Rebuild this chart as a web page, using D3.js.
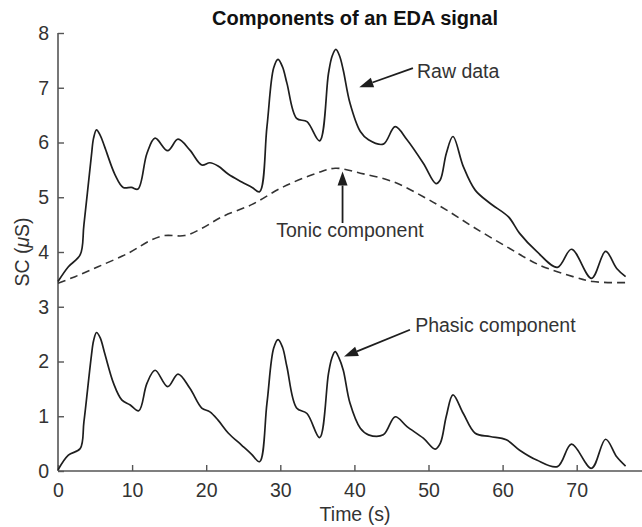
<!DOCTYPE html>
<html>
<head>
<meta charset="utf-8">
<script src="https://cdn.jsdelivr.net/npm/d3@7"></script>
<style>
  html, body { margin: 0; padding: 0; background: #fff; }
  svg { display: block; }
  text { font-family: "Liberation Sans", Arial, Helvetica, sans-serif; fill: #333; }
</style>
</head>
<body>
<svg id="chart" width="642" height="527"></svg>
<script>
// Skin conductance decomposition: [time (s), SC (µS)]
const rawSignal = [
  [0, 3.46], [1.4, 3.73], [3.0, 3.95], [3.5, 4.5], [4.5, 5.75], [4.8, 6.08], [5.2, 6.23],
  [5.7, 6.13], [6.3, 5.92],
  [7.7, 5.41], [8.8, 5.18], [9.9, 5.18], [10.8, 5.15], [12.0, 5.80], [13.1, 6.08],
  [14.8, 5.85], [16.2, 6.06], [17.8, 5.86], [19.4, 5.59], [20.5, 5.63], [21.6, 5.57],
  [23.0, 5.42], [24.8, 5.28], [26.2, 5.18], [27.2, 5.10], [28.2, 6.29], [29.1, 7.36],
  [29.7, 7.52], [30.3, 7.38],
  [30.9, 7.08], [32.2, 6.44], [33.6, 6.38], [35.3, 6.03], [36.5, 7.26], [37.0, 7.58],
  [37.5, 7.70], [38.0, 7.58],
  [38.5, 7.32], [39.4, 6.72], [40.8, 6.20], [41.9, 6.05], [43.9, 5.97], [45.5, 6.29],
  [47.1, 6.05], [49.3, 5.62], [51.0, 5.25], [51.6, 5.32], [52.4, 5.80], [53.3, 6.11],
  [54.7, 5.56], [56.3, 5.13], [58.3, 4.89], [60.8, 4.64], [62.3, 4.34], [64.6, 4.01],
  [67.4, 3.72], [69.3, 4.05], [72.0, 3.52], [73.9, 4.01], [75.4, 3.70], [76.6, 3.55]
];

const tonicComponent = [
  [0, 3.43], [2.3, 3.55], [5.4, 3.73], [9.5, 3.98], [12.6, 4.22], [14.4, 4.30],
  [17.1, 4.30], [19.4, 4.43], [22.1, 4.64], [26.2, 4.87], [30.4, 5.19], [34.9, 5.44],
  [37.4, 5.53], [40.8, 5.44], [45.3, 5.28], [49.3, 5.01], [52.4, 4.77], [56.0, 4.46],
  [60.5, 4.10], [65.0, 3.76], [69.5, 3.55], [72.2, 3.46], [76.7, 3.44]
];

const phasicComponent = [
  [0, 0.02], [1.4, 0.29], [3.0, 0.41], [3.5, 0.9], [4.5, 2.1], [4.8, 2.38], [5.2, 2.53],
  [5.7, 2.43], [6.3, 2.15],
  [7.5, 1.60], [8.6, 1.30], [9.7, 1.21], [10.9, 1.10], [12.0, 1.60], [13.1, 1.84],
  [14.8, 1.54], [16.2, 1.77], [17.8, 1.51], [19.4, 1.15], [20.5, 1.08], [21.6, 0.93],
  [23.0, 0.69], [24.8, 0.47], [26.1, 0.31], [27.2, 0.17], [28.2, 1.24], [29.1, 2.24],
  [29.7, 2.40], [30.3, 2.26],
  [30.9, 1.90], [32.2, 1.15], [33.6, 1.05], [35.3, 0.61], [36.5, 1.78], [36.95, 2.06],
  [37.4, 2.18], [37.9, 2.07],
  [38.5, 1.84], [39.4, 1.24], [40.8, 0.78], [41.9, 0.66], [43.9, 0.66], [45.5, 0.99],
  [47.1, 0.81], [49.3, 0.60], [50.9, 0.40], [51.6, 0.51], [52.4, 1.00], [53.3, 1.39],
  [54.7, 1.05], [56.3, 0.69], [58.3, 0.63], [60.5, 0.57], [62.3, 0.38], [64.6, 0.20],
  [67.4, 0.08], [69.3, 0.49], [72.0, 0.05], [73.9, 0.58], [75.4, 0.26], [76.6, 0.09]
];

const xTicks = [0, 10, 20, 30, 40, 50, 60, 70];
const yTicks = [0, 1, 2, 3, 4, 5, 6, 7, 8];

const svg = d3.select("#chart");
const axisColor = "#555";
const lineColor = "#1e1e1e";
const fontSize = "19.5px";

const x = d3.scaleLinear().domain([0, 80]).range([58, 650.8]);
const y = d3.scaleLinear().domain([0, 8]).range([471, 33]);

// Axes with inward ticks
const xAxis = d3.axisBottom(x).tickValues(xTicks).tickSize(-6).tickPadding(12).tickFormat(d3.format("d"));
const yAxis = d3.axisLeft(y).tickValues(yTicks).tickSize(-6).tickPadding(9).tickFormat(d3.format("d"));

const gx = svg.append("g").attr("transform", `translate(0,${y(0)})`).call(xAxis);
const gy = svg.append("g").attr("transform", `translate(${x(0)},0)`).call(yAxis);

[gx, gy].forEach(g => {
  g.select(".domain").attr("stroke", axisColor).attr("stroke-width", 1.6);
  g.selectAll(".tick line").attr("stroke", axisColor).attr("stroke-width", 1.4);
  g.selectAll(".tick text")
    .attr("fill", "#333")
    .style("font-size", fontSize)
    .style("font-family", "'Liberation Sans', Arial, sans-serif");
});
gx.select(".domain").attr("d", `M${x(0)},0H642`);
gy.select(".domain").attr("d", `M0,${y(8)}V${y(0)}`);

// Curves
const line = d3.line()
  .x(d => x(d[0]))
  .y(d => y(d[1]))
  .curve(d3.curveCatmullRom.alpha(0.5));

svg.append("path").datum(tonicComponent)
  .attr("d", line).attr("fill", "none")
  .attr("stroke", "#333").attr("stroke-width", 1.6)
  .attr("stroke-dasharray", "8,5");

svg.append("path").datum(rawSignal)
  .attr("d", line).attr("fill", "none")
  .attr("stroke", lineColor).attr("stroke-width", 1.7);

svg.append("path").datum(phasicComponent)
  .attr("d", line).attr("fill", "none")
  .attr("stroke", lineColor).attr("stroke-width", 1.7);

// Title and axis labels
svg.append("text")
  .attr("x", 355).attr("y", 25)
  .attr("text-anchor", "middle")
  .style("font-size", "20px").style("font-weight", "bold")
  .style("fill", "#111")
  .text("Components of an EDA signal");

svg.append("text")
  .attr("x", 355).attr("y", 521)
  .attr("text-anchor", "middle")
  .style("font-size", fontSize)
  .text("Time (s)");

const yLabel = svg.append("text")
  .attr("transform", "translate(29,252) rotate(-90)")
  .attr("text-anchor", "middle")
  .style("font-size", fontSize);
yLabel.append("tspan").text("SC (");
yLabel.append("tspan").style("font-style", "italic").text("\u03bc");
yLabel.append("tspan").text("S)");

// Annotations: arrow from (t0,v0) to the tip at (t1,v1)
function arrow(t0, v0, t1, v1) {
  const x0 = x(t0), y0 = y(v0), x1 = x(t1), y1 = y(v1);
  const ang = Math.atan2(y1 - y0, x1 - x0);
  const len = 14, half = 5;
  const bx = x1 - len * Math.cos(ang), by = y1 - len * Math.sin(ang);
  svg.append("line")
    .attr("x1", x0).attr("y1", y0).attr("x2", bx).attr("y2", by)
    .attr("stroke", lineColor).attr("stroke-width", 1.8);
  const px = -Math.sin(ang) * half, py = Math.cos(ang) * half;
  svg.append("path")
    .attr("d", `M${x1},${y1}L${bx + px},${by + py}L${bx - px},${by - py}Z`)
    .attr("fill", lineColor);
}

function note(t, v, label, anchor) {
  svg.append("text")
    .attr("x", x(t)).attr("y", y(v))
    .attr("text-anchor", anchor)
    .style("font-size", fontSize)
    .text(label);
}

arrow(47.9, 7.36, 40.66, 7.01);
note(48.45, 7.18, "Raw data", "start");

arrow(38.4, 4.53, 38.4, 5.47);
note(39.4, 4.27, "Tonic component", "middle");

arrow(47.5, 2.58, 38.6, 2.09);
note(48.2, 2.54, "Phasic component", "start");
</script>
</body>
</html>
